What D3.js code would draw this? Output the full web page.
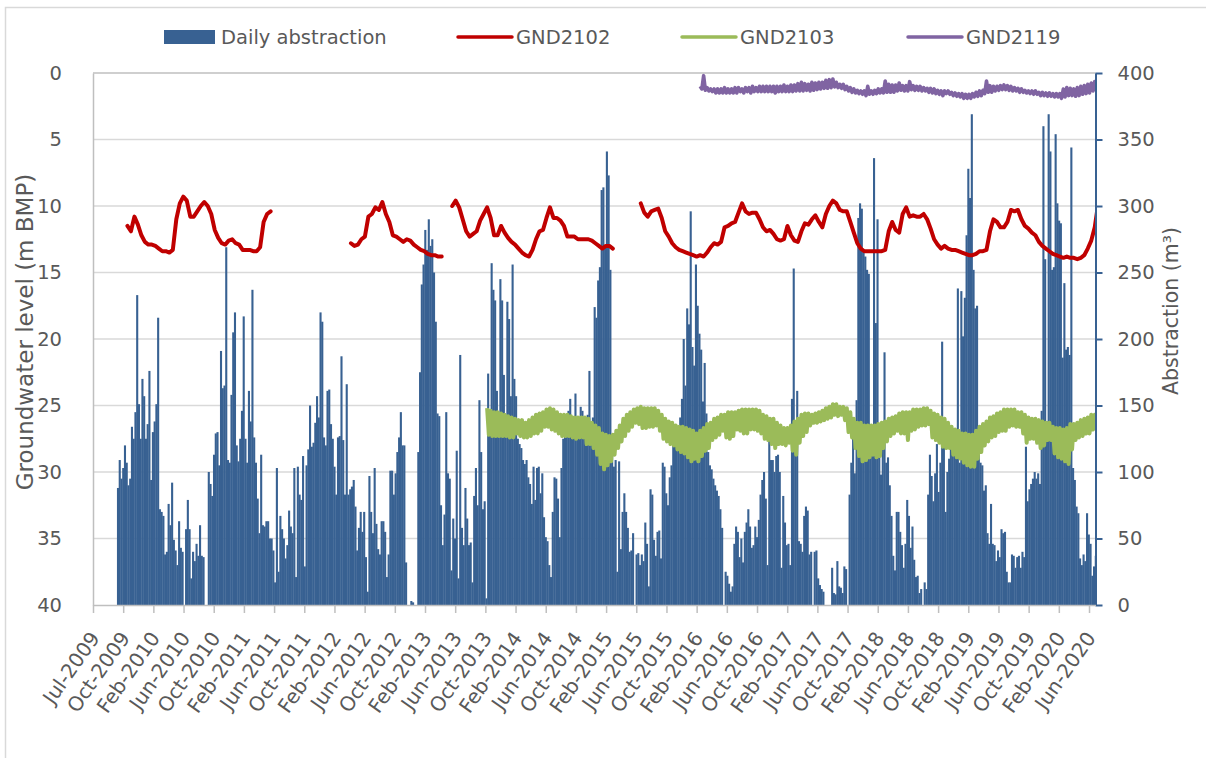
<!DOCTYPE html>
<html>
<head>
<meta charset="utf-8">
<script src="https://cdn.jsdelivr.net/npm/d3@7"></script>
<style>
  body { margin: 0; background: #fff; }
  svg { font-family: "DejaVu Sans", sans-serif; }
</style>
</head>
<body>
<script>
// weekly peaks of the daily abstraction (m3), one value per week
var abstractionStart = "2009-10-05";
var abstraction = [
  88,109,95,103,120,107,90,95,134,125, 145,233,151,125,170,157,125,136,176,94,
  130,138,151,216,72,70,67,38,40,76, 60,92,49,41,30,63,43,40,0,57,
  79,57,20,40,33,46,37,60,37,36, 0,0,100,91,82,113,129,130,105,191,
  163,165,269,109,107,158,205,220,120,108, 125,146,217,125,107,161,138,237,126,107,
  80,54,113,60,59,63,63,50,50,41, 17,103,25,67,57,50,35,45,71,59,
  54,103,21,104,83,79,112,29,105,117, 150,119,122,137,157,141,220,213,126,120,
  161,162,136,125,104,83,126,127,187,124, 83,166,83,87,89,94,74,41,58,70,
  55,70,36,10,97,70,54,103,61,42, 38,63,63,55,21,38,101,101,83,99,
  115,126,145,120,120,32,0,0,3,2, 0,0,115,175,241,256,282,267,290,270,
  275,250,213,144,142,75,45,68,145,99, 95,26,65,50,116,20,188,58,45,88,
  65,45,47,17,82,103,75,154,115,72, 78,5,174,140,257,237,229,161,144,245,
  229,173,138,228,215,157,256,170,157,125, 121,118,109,106,109,96,91,76,104,79,
  103,104,84,99,66,51,48,30,21,70, 96,95,80,51,103,125,130,133,146,155,
  125,140,159,125,141,149,146,137,120,143, 176,133,141,224,216,244,254,312,314,269,
  341,323,252,120,104,109,25,108,42,70, 84,70,58,40,41,54,0,38,39,30,
  38,33,62,46,14,87,83,49,37,55, 56,35,107,104,84,75,96,105,120,126,
  128,117,141,155,200,165,223,211,296,194, 180,256,225,204,192,153,182,144,115,105,
  102,95,90,86,82,72,58,0,25,22, 16,10,14,46,59,55,36,50,32,55,
  62,72,59,43,45,59,51,64,83,94, 100,80,30,124,109,109,100,112,113,100,
  28,82,62,45,46,30,155,253,122,161, 48,46,40,67,74,71,38,40,0,40,
  41,20,15,12,10,0,0,0,0,28, 9,8,33,14,13,9,29,27,0,83,
  107,125,99,154,291,302,298,267,262,252, 249,136,127,336,212,290,111,98,130,190,
  107,111,90,67,37,26,70,70,55,45, 28,46,79,67,43,59,34,21,22,9,
  12,0,17,12,83,113,97,78,99,121, 85,107,198,120,70,100,110,124,121,117,
  120,238,107,236,202,231,278,328,306,369, 252,223,225,125,107,105,86,90,54,46,
  76,46,45,33,41,36,57,54,55,25, 17,17,38,37,28,36,37,28,40,36,
  119,78,87,91,95,100,95,99,91,146, 360,260,138,369,341,252,254,354,302,289,
  287,186,242,192,194,188,344,103,94,74, 69,35,30,38,33,69,53,46,22,29,
  37
];

// GND2102 groundwater level (m BMP), fortnightly, null = no record
var gnd2102Start = "2009-11-16";
var gnd2102 = [
  11.5,11.9,10.8,11.4,12.2,12.7,12.9,12.9,13.0,13.2,13.4,13.4,13.5,13.3,11.0,9.8,9.3,9.6,10.8,10.8,
  10.4,10.0,9.7,10.0,10.6,11.8,12.4,12.8,12.9,12.6,12.5,12.8,12.9,13.3,13.3,13.3,13.4,13.4,13.1,11.2,
  10.6,10.4,
  null,null,null,null,null,null,null,null,null,null,null,null,null,null,null,null,null,null,null,null,null,null,
  12.8,13.0,12.9,12.5,12.3,10.8,10.6,10.1,10.3,9.7,10.6,11.2,12.2,12.3,12.5,12.7,12.5,12.6,12.9,13.1,
  13.3,13.4,13.6,13.7,13.7,13.8,13.8,
  null,null,
  10.0,9.6,10.1,11.0,11.9,12.3,12.1,11.9,11.1,10.6,10.1,10.9,12.2,12.2,11.5,12.0,12.4,12.7,12.9,13.2,
  13.5,13.7,13.8,13.3,12.5,11.9,11.8,10.9,10.1,10.9,10.9,11.1,11.5,12.3,12.3,12.3,12.5,12.5,12.5,12.5,
  12.6,12.8,13.0,13.2,13.0,13.0,13.2,
  null,null,null,null,null,null,null,
  9.8,10.5,10.8,10.4,10.3,10.2,10.9,11.9,12.3,12.8, 13.1,13.3,13.4,13.5,13.6,13.7,13.8,13.7,13.8,13.5,
  13.1,12.8,12.9,12.7,11.6,11.5,11.3,11.2,10.5,9.8, 10.4,10.6,10.5,10.5,11.0,11.6,11.9,11.8,12.1,12.5,
  12.6,12.5,11.5,12.2,12.6,12.7,11.9,11.3,11.4,11.0, 10.7,11.2,11.6,10.6,10.0,9.6,9.8,10.3,10.4,10.4,
  11.2,12.0,12.8,13.2,13.4,13.4,13.4,13.4,13.4,13.4, 13.3,11.9,11.2,11.8,12.0,10.6,10.1,10.8,10.7,10.8,
  10.8,10.6,11.0,11.7,12.5,12.9,13.2,13.0,13.2,13.3, 13.3,13.4,13.5,13.6,13.7,13.7,13.6,13.4,13.4,13.3,
  11.9,11.0,11.2,11.6,11.6,11.2,10.3,10.4,10.3,11.0, 11.5,11.7,12.0,12.2,12.7,13.0,13.2,13.4,13.6,13.7,
  13.8,13.9,13.8,13.9,13.9,14.0,13.9,13.7,13.2,12.6, 11.6,9.8
];

// GND2103 fortnightly shallowest / deepest level (m BMP)
var gnd2103Start = "2013-10-28";
var gnd2103High = [
  25.2,25.4,25.5,25.5,25.6,25.7,25.8,25.9,26.0,26.1, 26.1,26.3,26.1,25.9,25.7,25.6,25.5,25.3,25.2,25.3,
  25.5,25.7,25.7,25.7,25.8,25.9,25.9,25.9,25.9,26.0, 26.3,26.5,26.7,27.1,27.2,27.3,27.2,26.9,26.5,26.0,
  25.7,25.5,25.3,25.2,25.1,25.2,25.2,25.2,25.2,25.4, 25.7,26.0,26.2,26.3,26.5,26.6,26.6,26.7,26.8,26.9,
  27.1,26.9,26.7,26.4,26.3,26.0,25.9,25.7,25.7,25.5, 25.5,25.5,25.4,25.3,25.3,25.3,25.3,25.3,25.4,25.7,
  25.8,26.0,26.0,26.3,26.5,26.7,26.7,26.5,26.2,26.0, 25.7,25.6,25.6,25.7,25.6,25.5,25.4,25.2,25.1,24.9,
  24.9,25.1,25.1,25.2,25.5,26.0,26.3,26.3,26.5,26.5, 26.5,26.5,26.4,26.3,26.2,26.0,25.9,25.8,25.6,25.5,
  25.5,25.5,25.3,25.3,25.3,25.2,25.2,25.4,25.6,25.7, 25.9,26.0,26.3,26.6,26.8,26.9,27.1,27.1,27.2,27.2,
  26.9,26.6,26.4,26.2,25.9,25.8,25.6,25.5,25.3,25.3, 25.3,25.3,25.5,25.5,25.7,25.9,26.0,26.0,26.1,26.2,
  26.3,26.3,26.6,26.7,26.7,26.8,26.7,26.4,26.4,26.3, 26.1,26.0,25.9,25.7,25.7,25.6
];
var gnd2103Low = [
  27.2,27.3,27.3,27.3,27.3,27.3,27.4,27.4,27.1,27.3, 27.4,27.4,27.3,27.1,27.1,26.9,26.6,26.6,26.8,26.9,
  27.1,27.3,27.3,27.3,27.4,27.5,27.4,27.4,27.9,27.9, 28.2,28.7,29.4,29.8,29.5,29.2,28.7,28.2,27.7,27.3,
  26.9,26.6,26.3,26.4,26.7,26.7,26.6,26.6,26.5,26.9, 27.5,27.7,27.9,28.0,28.3,28.5,28.6,28.9,29.2,29.0,
  29.2,28.8,28.4,28.2,27.6,27.4,27.2,26.9,27.4,27.5, 27.3,26.8,26.9,27.1,27.1,26.8,26.8,26.9,27.1,27.5,
  27.6,27.9,28.2,27.9,27.9,28.0,27.8,28.4,28.7,27.8, 27.3,27.0,26.5,26.3,26.3,26.2,26.1,26.0,25.9,25.7,
  25.8,25.7,26.1,27.0,27.4,28.2,28.8,29.2,29.1,28.9, 28.7,28.9,28.8,28.2,27.7,27.3,27.1,26.9,27.1,27.1,
  27.6,26.9,26.8,26.6,26.5,26.5,26.4,27.4,27.6,27.8, 28.1,28.2,28.2,28.7,28.9,29.0,29.3,29.5,29.6,29.6,
  29.0,28.5,28.0,27.7,27.4,27.3,27.0,26.9,26.9,26.6, 26.5,26.6,26.6,27.1,27.8,27.5,27.5,27.8,28.2,28.0,
  27.6,27.6,28.6,28.9,29.0,29.2,29.4,28.3,27.6,27.4, 27.3,27.1,27.1,26.8,26.3,26.0
];

// GND2119 fortnightly shallowest / deepest level (m BMP)
var gnd2119Start = "2016-02-29";
var gnd2119High = [
  1.0,0.2,1.1,1.2,1.2,1.2,1.2,1.1,1.2,1.2, 1.1,1.1,1.2,1.1,1.1,1.0,1.1,1.0,1.0,1.0,
  1.0,1.0,1.0,1.0,0.9,1.0,0.9,0.9,0.8,0.7, 0.8,0.85,0.7,0.75,0.7,0.7,0.55,0.5,0.45,0.7,
  0.85,0.85,1.0,1.1,1.2,1.3,1.35,1.35,1.0,1.35, 1.3,1.2,1.2,0.6,0.85,0.9,0.9,0.75,0.95,0.95,
  0.65,0.95,1.0,1.0,1.1,1.15,1.15,1.2,1.3,1.35, 1.35,1.35,1.45,1.5,1.55,1.55,1.6,1.6,1.55,1.45,
  1.35,1.3,0.6,0.95,1.0,1.0,0.95,0.9,0.95,1.0, 1.1,1.15,1.2,1.3,1.35,1.35,1.35,1.45,1.45,1.5,
  1.5,1.55,1.55,1.55,1.2,1.1,1.15,1.2,1.1,1.0, 0.95,0.85,0.75,0.65,0.55
];
var gnd2119Low = [
  1.2,1.3,1.35,1.4,1.5,1.5,1.5,1.5,1.5,1.5, 1.5,1.4,1.5,1.4,1.5,1.4,1.4,1.4,1.4,1.4,
  1.4,1.5,1.4,1.4,1.4,1.4,1.4,1.35,1.35,1.35, 1.3,1.35,1.3,1.25,1.2,1.15,1.15,1.1,1.05,1.1,
  1.15,1.25,1.35,1.45,1.5,1.55,1.6,1.7,1.6,1.6, 1.55,1.5,1.5,1.45,1.45,1.45,1.35,1.3,1.35,1.35,
  1.25,1.3,1.3,1.35,1.35,1.45,1.5,1.55,1.6,1.7, 1.55,1.6,1.7,1.75,1.8,1.9,1.9,1.9,1.8,1.75,
  1.7,1.55,1.45,1.45,1.35,1.3,1.25,1.25,1.3,1.35, 1.35,1.45,1.45,1.5,1.55,1.6,1.6,1.7,1.7,1.75,
  1.75,1.8,1.8,1.9,1.8,1.7,1.7,1.75,1.7,1.6, 1.55,1.5,1.35,1.3,1.15
];

var seriesNames = ["Daily abstraction", "GND2102", "GND2103", "GND2119"];
var levelTicks = [0, 5, 10, 15, 20, 25, 30, 35, 40];
var abstractionTicks = [0, 50, 100, 150, 200, 250, 300, 350, 400];
var axisStart = "2009-07-01", axisEnd = "2020-07-02", tickStepDays = 121, tickCount = 34;

var colors = { bars: "#386192", red: "#C00000", green: "#9BBB59", purple: "#8064A2",
               text: "#595959", grid: "#D9D9D9", axis: "#BFBFBF" };

var W = 1206, H = 758;
var plot = { left: 93, right: 1095.5, top: 73, bottom: 605 };

var parse = d3.utcParse("%Y-%m-%d");

var svg = d3.select("body").append("svg")
    .attr("width", W)
    .attr("height", H);

// chart frame (only left and top edges fall inside the picture)
svg.append("rect")
    .attr("x", 5.5).attr("y", 7.5)
    .attr("width", W + 10).attr("height", H + 10)
    .attr("fill", "none")
    .attr("stroke", colors.grid)
    .attr("stroke-width", 1.5);

var x = d3.scaleUtc()
    .domain([parse(axisStart), parse(axisEnd)])
    .range([plot.left, plot.right]);

var yLevel = d3.scaleLinear().domain([0, 40]).range([plot.top, plot.bottom]);
var yAbs = d3.scaleLinear().domain([0, 400]).range([plot.bottom, plot.top]);

svg.append("clipPath").attr("id", "plotclip")
  .append("rect")
    .attr("x", plot.left).attr("y", plot.top - 5)
    .attr("width", plot.right - plot.left).attr("height", plot.bottom - plot.top + 5);

// gridlines
svg.append("g").selectAll("line")
    .data(levelTicks.slice(1, -1))
  .enter().append("line")
    .attr("x1", plot.left).attr("x2", plot.right)
    .attr("y1", function(d) { return yLevel(d); })
    .attr("y2", function(d) { return yLevel(d); })
    .attr("stroke", colors.grid)
    .attr("stroke-width", 1.5);

// bars
var weekly = abstraction.map(function(v, i) {
  var t = d3.utcDay.offset(parse(abstractionStart), 7 * i);
  return { t0: t, t1: d3.utcDay.offset(t, 7), v: v };
});

svg.append("g")
    .attr("clip-path", "url(#plotclip)")
  .selectAll("rect")
    .data(weekly.filter(function(d) { return d.v > 0; }))
  .enter().append("rect")
    .attr("x", function(d) { return x(d.t0); })
    .attr("width", function(d) { return x(d.t1) - x(d.t0) + 0.35; })
    .attr("y", function(d) { return yAbs(d.v); })
    .attr("height", function(d) { return yAbs(0) - yAbs(d.v); })
    .attr("fill", colors.bars);

// top axis line
svg.append("line")
    .attr("x1", plot.left).attr("x2", plot.right)
    .attr("y1", plot.top).attr("y2", plot.top)
    .attr("stroke", colors.axis).attr("stroke-width", 1.5);

function fortnightly(start, values) {
  return values.map(function(v, i) {
    return { t: d3.utcDay.offset(parse(start), 14 * i), v: v };
  });
}

// a band series is drawn as the line running between the shallow and deep reading of each fortnight
function zigzag(start, high, low) {
  var pts = [];
  high.forEach(function(v, i) {
    var t = d3.utcDay.offset(parse(start), 14 * i);
    pts.push({ t: t, v: v });
    pts.push({ t: d3.utcDay.offset(t, 7), v: low[i] });
  });
  return pts;
}

var levelLine = d3.line()
    .defined(function(d) { return d.v != null; })
    .x(function(d) { return x(d.t); })
    .y(function(d) { return yLevel(d.v); });

var lines = svg.append("g").attr("clip-path", "url(#plotclip)");

lines.append("path")
    .datum(zigzag(gnd2103Start, gnd2103High, gnd2103Low))
    .attr("d", levelLine)
    .attr("fill", "none")
    .attr("stroke", colors.green)
    .attr("stroke-width", 4)
    .attr("stroke-linejoin", "round");

lines.append("path")
    .datum(zigzag(gnd2119Start, gnd2119High, gnd2119Low))
    .attr("d", levelLine)
    .attr("fill", "none")
    .attr("stroke", colors.purple)
    .attr("stroke-width", 3.6)
    .attr("stroke-linejoin", "round");

lines.append("path")
    .datum(fortnightly(gnd2102Start, gnd2102))
    .attr("d", levelLine)
    .attr("fill", "none")
    .attr("stroke", colors.red)
    .attr("stroke-width", 4)
    .attr("stroke-linejoin", "round")
    .attr("stroke-linecap", "round");

// left axis
var leftAxis = svg.append("g")
    .attr("transform", "translate(" + plot.left + ",0)")
    .call(d3.axisLeft(yLevel).tickValues(levelTicks).tickSizeInner(0).tickSizeOuter(0).tickPadding(31));
leftAxis.select(".domain").attr("stroke", colors.axis).attr("stroke-width", 1.5);
leftAxis.selectAll("text")
    .attr("fill", colors.text)
    .style("font-size", "19.5px")
    .style("font-family", "DejaVu Sans");

// right axis
var rightAxis = svg.append("g")
    .attr("transform", "translate(" + plot.right + ",0)")
    .call(d3.axisRight(yAbs).tickValues(abstractionTicks).tickSizeInner(7).tickSizeOuter(0).tickPadding(15));
rightAxis.select(".domain").attr("stroke", colors.bars).attr("stroke-width", 2);
rightAxis.selectAll(".tick line").attr("stroke", colors.bars).attr("stroke-width", 2);
rightAxis.selectAll("text")
    .attr("fill", colors.text)
    .style("font-size", "19.5px")
    .style("font-family", "DejaVu Sans");

// bottom axis
var tickDates = d3.range(tickCount).map(function(k) {
  return d3.utcDay.offset(parse(axisStart), tickStepDays * k);
});
var bottomAxis = svg.append("g")
    .attr("transform", "translate(0," + plot.bottom + ")")
    .call(d3.axisBottom(x).tickValues(tickDates).tickSizeInner(8).tickSizeOuter(0)
      .tickFormat(d3.utcFormat("%b-%Y")));
bottomAxis.select(".domain").attr("stroke", colors.axis).attr("stroke-width", 1.5);
bottomAxis.selectAll(".tick line").attr("stroke", colors.axis).attr("stroke-width", 1.5);
bottomAxis.selectAll("text")
    .attr("fill", colors.text)
    .attr("x", 0).attr("y", 0).attr("dy", 0)
    .attr("transform", "translate(7,33) rotate(-55)")
    .style("text-anchor", "end")
    .style("font-size", "20px")
    .style("font-family", "DejaVu Sans");

// axis titles
svg.append("text")
    .attr("transform", "translate(25,332) rotate(-90)")
    .attr("text-anchor", "middle")
    .attr("dominant-baseline", "central")
    .attr("fill", colors.text)
    .style("font-size", "23px")
    .text("Groundwater level (m BMP)");

svg.append("text")
    .attr("transform", "translate(1171,311) rotate(-90)")
    .attr("text-anchor", "middle")
    .attr("dominant-baseline", "central")
    .attr("fill", colors.text)
    .style("font-size", "20.5px")
    .text("Abstraction (m³)");

// legend
var legend = svg.append("g");
var legendItems = [
  { name: seriesNames[0], color: colors.bars, kind: "box", x: 164 },
  { name: seriesNames[1], color: colors.red, kind: "line", x: 458 },
  { name: seriesNames[2], color: colors.green, kind: "line", x: 682 },
  { name: seriesNames[3], color: colors.purple, kind: "line", x: 908 }
];
legendItems.forEach(function(d) {
  if (d.kind == "box") {
    legend.append("rect")
        .attr("x", d.x).attr("y", 30)
        .attr("width", 51).attr("height", 14)
        .attr("fill", d.color);
  } else {
    legend.append("line")
        .attr("x1", d.x).attr("x2", d.x + 54)
        .attr("y1", 37).attr("y2", 37)
        .attr("stroke", d.color)
        .attr("stroke-width", 3.5)
        .attr("stroke-linecap", "round");
  }
  legend.append("text")
      .attr("x", d.x + (d.kind == "box" ? 57 : 58))
      .attr("y", 37)
      .attr("dominant-baseline", "central")
      .attr("fill", colors.text)
      .style("font-size", "19.5px")
      .text(d.name);
});
</script>
</body>
</html>
